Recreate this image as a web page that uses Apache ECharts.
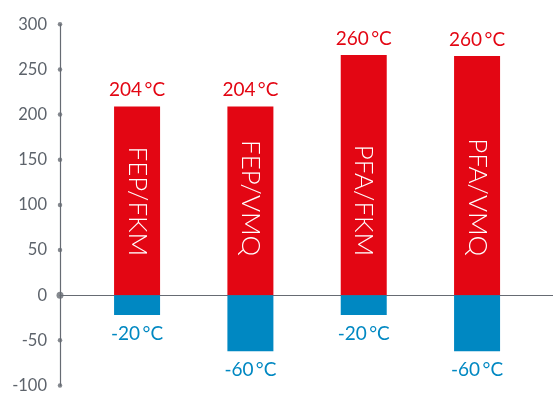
<!DOCTYPE html>
<html>
<head>
<meta charset="utf-8">
<script src="https://cdn.jsdelivr.net/npm/echarts@6/dist/echarts.min.js"></script>
<style>html,body{margin:0;padding:0;background:#fff}#c{width:553px;height:394px}</style>
</head>
<body>
<div id="c"></div>
<script>
const categories = ['FEP/FKM', 'FEP/VMQ', 'PFA/FKM', 'PFA/VMQ'];
const maxValues = [209, 209, 266, 265];
const minValues = [-22, -62, -22, -62];
const maxLabels = ['204\u2009\u00B0C', '204\u2009\u00B0C', '260\u2009\u00B0C', '260\u2009\u00B0C'];
const minLabels = ['-20\u2009\u00B0C', '-60\u2009\u00B0C', '-20\u2009\u00B0C', '-60\u2009\u00B0C'];
const yTicks = [-100, -50, 0, 50, 100, 150, 200, 250, 300];

const X_MIN = -0.68, X_MAX = 3.67;
const RED = '#e30613', BLUE = '#0088c2', GREY = '#666b73';

const chart = echarts.init(document.getElementById('c'));
chart.setOption({
  animation: false,
  textStyle: { fontFamily: 'Lato' },
  grid: { left: 60, right: 0, top: 24.3, bottom: 7.3, containLabel: false },
  xAxis: {
    type: 'value', min: X_MIN, max: X_MAX,
    axisLine: { show: true, onZero: true, lineStyle: { color: GREY, width: 1.2 } },
    axisTick: { show: false }, axisLabel: { show: false }, splitLine: { show: false }
  },
  yAxis: {
    type: 'value', min: -100, max: 300, interval: 50,
    axisLine: { show: true, onZero: false, lineStyle: { color: GREY, width: 1.2 } },
    axisTick: { show: false }, splitLine: { show: false },
    axisLabel: { color: '#5d636b', fontSize: 16.5, margin: 13, fontFamily: 'Lato' }
  },
  series: [
    {
      type: 'bar', stack: 's', barWidth: 46,
      itemStyle: { color: RED },
      data: maxValues.map((v, i) => [i, v]),
      label: {
        show: true, position: 'top', distance: 7, color: RED, fontSize: 19, fontFamily: 'Lato',
        formatter: p => maxLabels[p.dataIndex]
      }
    },
    {
      type: 'bar', stack: 's', barWidth: 46,
      itemStyle: { color: BLUE },
      data: minValues.map((v, i) => [i, v]),
      label: {
        show: true, position: 'bottom', distance: 9, color: BLUE, fontSize: 19, fontFamily: 'Lato',
        formatter: p => minLabels[p.dataIndex]
      }
    },
    {
      type: 'bar', barWidth: 46, barGap: '-100%', z: 5,
      itemStyle: { color: 'transparent' },
      data: maxValues.map((v, i) => [i, v]),
      label: {
        show: true, position: 'insideBottom', distance: 39, rotate: -90,
        align: 'right', verticalAlign: 'middle',
        color: '#fff', fontSize: 26, fontWeight: 300, fontFamily: 'Lato',
        formatter: p => categories[p.dataIndex]
      }
    },
    {
      type: 'scatter', clip: false, z: 10, symbolSize: 4.5,
      itemStyle: { color: GREY },
      data: yTicks.filter(t => t !== 0).map(t => [X_MIN, t])
    },
    {
      type: 'scatter', clip: false, z: 10, symbolSize: 7,
      itemStyle: { color: GREY },
      data: [[X_MIN, 0]]
    }
  ]
});
</script>
</body>
</html>
